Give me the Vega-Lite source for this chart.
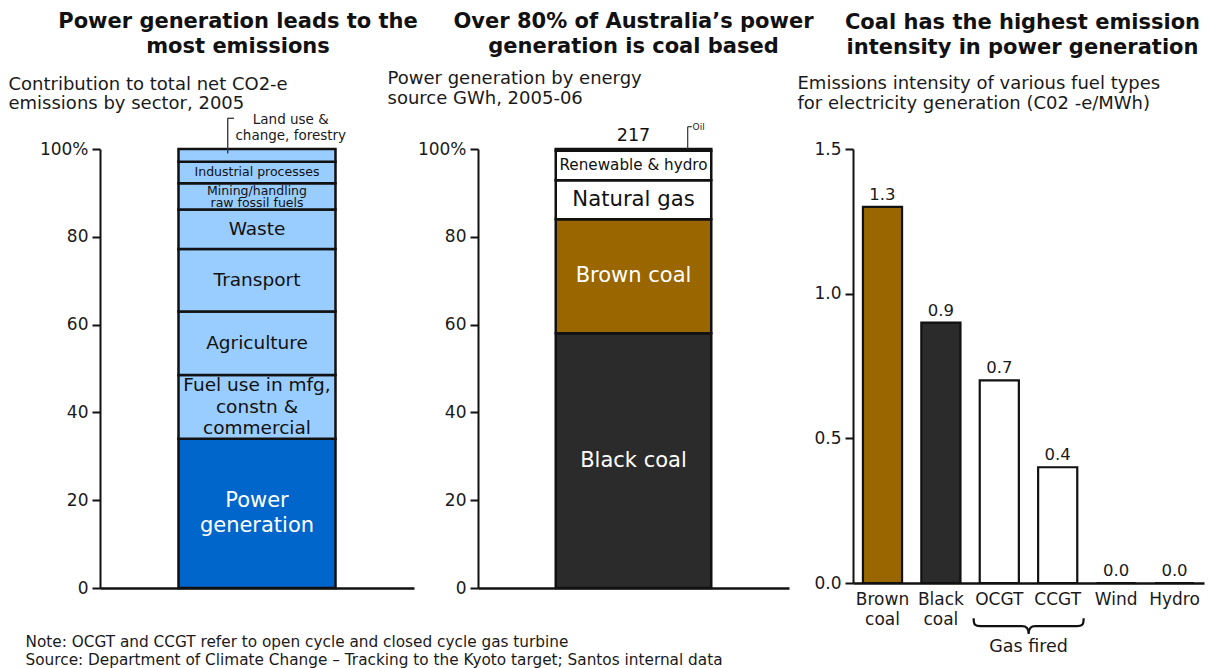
{
  "$schema": "https://vega.github.io/schema/vega-lite/v6.json",
  "background": "white",
  "padding": {"left": 8, "top": 10, "right": 5, "bottom": 2},
  "bounds": "flush",
  "spacing": 64,
  "resolve": {"scale": {"fill": "independent"}},
  "config": {
    "font": "DejaVu Sans",
    "view": {"stroke": null},
    "axis": {
      "domainColor": "#111", "domainWidth": 2, "tickColor": "#111", "tickWidth": 2, "tickSize": 8,
      "labelColor": "#1a1a1a", "labelFontSize": 17, "labelPadding": 4, "grid": false,
      "titleFontWeight": "normal", "titleFontSize": 18, "titleColor": "#1a1a1a"
    },
    "title": {"fontSize": 21, "fontWeight": "bold", "color": "#111", "lineHeight": 25, "anchor": "middle"}
  },
  "hconcat": [
    {
      "width": 314,
      "height": 439,
      "title": {"text": ["Power generation leads to the", "most emissions"], "dx": -19, "offset": 18},
      "data": {"values": [
        {"sector": "Power generation", "label": "Power\ngeneration", "share": 34, "rank": 1},
        {"sector": "Fuel use in mfg, constn & commercial", "label": "Fuel use in mfg,\nconstn &\ncommercial", "share": 14.5, "rank": 2},
        {"sector": "Agriculture", "label": "Agriculture", "share": 14.5, "rank": 3},
        {"sector": "Transport", "label": "Transport", "share": 14.2, "rank": 4},
        {"sector": "Waste", "label": "Waste", "share": 9.0, "rank": 5},
        {"sector": "Mining/handling raw fossil fuels", "label": "Mining/handling\nraw fossil fuels", "share": 6.0, "rank": 6},
        {"sector": "Industrial processes", "label": "Industrial processes", "share": 4.9, "rank": 7},
        {"sector": "Land use & change, forestry", "label": "Land use &\nchange, forestry", "share": 2.9, "rank": 8}
      ]},
      "transform": [
        {"stack": "share", "groupby": [], "sort": [{"field": "rank", "order": "ascending"}], "as": ["lo", "hi"]}
      ],
      "layer": [
        {
          "mark": {"type": "bar", "stroke": "#111", "strokeWidth": 2.5},
          "encoding": {
            "x": {
              "datum": 1, "type": "quantitative", "scale": {"domain": [0, 4]},
              "axis": {
                "labels": false, "ticks": false, "domainWidth": 2.5,
                "title": ["Note: OCGT and CCGT refer to open cycle and closed cycle gas turbine", "Source: Department of Climate Change – Tracking to the Kyoto target; Santos internal data"],
                "titleAlign": "left", "titleBaseline": "alphabetic", "titleX": -75, "titleY": 58.7,
                "titleFontSize": 15.3, "titleLineHeight": 18
              }
            },
            "x2": {"datum": 3},
            "y": {
              "field": "lo", "type": "quantitative", "scale": {"domain": [0, 100], "nice": false},
              "axis": {
                "values": [0, 20, 40, 60, 80, 100],
                "labelExpr": "datum.value == 100 ? '100%' : datum.label",
                "title": ["Contribution to total net CO2-e", "emissions by sector, 2005"],
                "titleAngle": 0, "titleAlign": "left", "titleBaseline": "alphabetic",
                "titleX": -92, "titleY": -60, "titleLineHeight": 19.5
              }
            },
            "y2": {"field": "hi"},
            "fill": {"condition": {"test": "datum.rank == 1", "value": "#0066CC"}, "value": "#99CCFF"}
          }
        },
        {
          "transform": [
            {"filter": "datum.rank < 8"},
            {"fold": ["lo", "hi"], "as": ["edge", "pos"]},
            {"aggregate": [{"op": "mean", "field": "pos", "as": "mid"}], "groupby": ["rank", "label"]}
          ],
          "mark": {
            "type": "text", "lineBreak": "\n", "baseline": "middle", "align": "center",
            "lineHeight": {"expr": "datum.rank == 1 ? 25 : datum.rank >= 6 ? 12.5 : 21.5"},
            "dy": {"expr": "datum.rank == 1 ? -12.5 : datum.rank == 2 ? -21.5 : datum.rank == 6 ? -5.5 : 0"}
          },
          "encoding": {
            "x": {"datum": 2, "type": "quantitative"},
            "y": {"field": "mid", "type": "quantitative"},
            "text": {"field": "label"},
            "size": {"condition": [{"test": "datum.rank == 1", "value": 21}, {"test": "datum.rank >= 6", "value": 12.5}], "value": 18.5},
            "color": {"condition": {"test": "datum.rank == 1", "value": "white"}, "value": "#111"}
          }
        },
        {
          "transform": [{"filter": "datum.rank == 8"}],
          "mark": {"type": "rule", "color": "#333", "strokeWidth": 1.3},
          "encoding": {
            "x": {"datum": 1.627, "type": "quantitative"},
            "y": {"datum": 99, "type": "quantitative"},
            "y2": {"datum": 107}
          }
        },
        {
          "transform": [{"filter": "datum.rank == 8"}],
          "mark": {"type": "rule", "color": "#333", "strokeWidth": 1.3},
          "encoding": {
            "x": {"datum": 1.627, "type": "quantitative"},
            "x2": {"datum": 1.707},
            "y": {"datum": 107, "type": "quantitative"}
          }
        },
        {
          "transform": [{"filter": "datum.rank == 8"}],
          "mark": {"type": "text", "lineBreak": "\n", "baseline": "alphabetic", "align": "center", "fontSize": 13.5, "lineHeight": 16, "color": "#1a1a1a"},
          "encoding": {
            "x": {"datum": 2.43, "type": "quantitative"},
            "y": {"datum": 105.7, "type": "quantitative"},
            "text": {"field": "label"}
          }
        }
      ]
    },
    {
      "width": 311,
      "height": 439,
      "title": {"text": ["Over 80% of Australia’s power", "generation is coal based"], "dx": 0, "offset": 12.7},
      "data": {"values": [
        {"source": "Black coal", "twh": 125.9, "rank": 1},
        {"source": "Brown coal", "twh": 56.4, "rank": 2},
        {"source": "Natural gas", "twh": 19.3, "rank": 3},
        {"source": "Renewable & hydro", "twh": 14.5, "rank": 4},
        {"source": "Oil", "twh": 0.9, "rank": 5}
      ]},
      "transform": [
        {"stack": "twh", "groupby": [], "offset": "normalize", "sort": [{"field": "rank", "order": "ascending"}], "as": ["lo", "hi"]}
      ],
      "layer": [
        {
          "mark": {"type": "bar", "stroke": "#111", "strokeWidth": 2.5},
          "encoding": {
            "x": {
              "datum": 1, "type": "quantitative", "scale": {"domain": [0, 4]},
              "axis": {"labels": false, "ticks": false, "domainWidth": 2.5, "title": null}
            },
            "x2": {"datum": 3},
            "y": {
              "field": "lo", "type": "quantitative", "scale": {"domain": [0, 1], "nice": false},
              "axis": {
                "values": [0, 0.2, 0.4, 0.6, 0.8, 1],
                "labelExpr": "datum.value == 1 ? '100%' : format(datum.value * 100, 'd')",
                "title": ["Power generation by energy", "source GWh, 2005-06"],
                "titleAngle": 0, "titleAlign": "left", "titleBaseline": "alphabetic",
                "titleX": -91, "titleY": -65.7, "titleLineHeight": 20
              }
            },
            "y2": {"field": "hi"},
            "fill": {
              "field": "source", "type": "nominal", "legend": null,
              "scale": {"domain": ["Black coal", "Brown coal", "Natural gas", "Renewable & hydro", "Oil"], "range": ["#2B2B2B", "#996600", "#FFFFFF", "#FFFFFF", "#FFFFFF"]}
            }
          }
        },
        {
          "transform": [
            {"filter": "datum.rank < 5"},
            {"fold": ["lo", "hi"], "as": ["edge", "pos"]},
            {"aggregate": [{"op": "mean", "field": "pos", "as": "mid"}], "groupby": ["rank", "source"]}
          ],
          "mark": {"type": "text", "baseline": "middle", "align": "center"},
          "encoding": {
            "x": {"datum": 2, "type": "quantitative"},
            "y": {"field": "mid", "type": "quantitative"},
            "text": {"field": "source"},
            "size": {"condition": [{"test": "datum.rank == 4", "value": 15.2}, {"test": "datum.rank == 3", "value": 21.2}], "value": 21},
            "color": {"condition": {"test": "datum.rank <= 2", "value": "white"}, "value": "#111"}
          }
        },
        {
          "transform": [{"aggregate": [{"op": "sum", "field": "twh", "as": "total"}]}],
          "mark": {"type": "text", "baseline": "alphabetic", "align": "center", "fontSize": 17.5, "color": "#111"},
          "encoding": {
            "x": {"datum": 2, "type": "quantitative"},
            "y": {"datum": 1.018, "type": "quantitative"},
            "text": {"field": "total", "format": ".0f"}
          }
        },
        {
          "transform": [{"filter": "datum.rank == 5"}],
          "mark": {"type": "rule", "color": "#333", "strokeWidth": 1.2},
          "encoding": {
            "x": {"datum": 2.697, "type": "quantitative"},
            "y": {"datum": 1.0, "type": "quantitative"},
            "y2": {"datum": 1.0508}
          }
        },
        {
          "transform": [{"filter": "datum.rank == 5"}],
          "mark": {"type": "rule", "color": "#333", "strokeWidth": 1.2},
          "encoding": {
            "x": {"datum": 2.697, "type": "quantitative"},
            "x2": {"datum": 2.75},
            "y": {"datum": 1.0508, "type": "quantitative"}
          }
        },
        {
          "transform": [{"filter": "datum.rank == 5"}],
          "mark": {"type": "text", "baseline": "middle", "align": "left", "fontSize": 9, "color": "#1a1a1a"},
          "encoding": {
            "x": {"datum": 2.76, "type": "quantitative"},
            "y": {"datum": 1.0508, "type": "quantitative"},
            "text": {"field": "source"}
          }
        }
      ]
    },
    {
      "width": 351,
      "height": 434,
      "title": {"text": ["Coal has the highest emission", "intensity in power generation"], "dx": -6, "offset": 15.7},
      "data": {"values": [
        {"fuel": "Brown coal", "intensity": 1.3},
        {"fuel": "Black coal", "intensity": 0.9},
        {"fuel": "OCGT", "intensity": 0.7},
        {"fuel": "CCGT", "intensity": 0.4},
        {"fuel": "Wind", "intensity": 0.0},
        {"fuel": "Hydro", "intensity": 0.0}
      ]},
      "layer": [
        {
          "mark": {"type": "bar", "stroke": "#111", "strokeWidth": 2.2},
          "encoding": {
            "x": {
              "field": "fuel", "type": "nominal",
              "scale": {"domain": ["Brown coal", "Black coal", "OCGT", "CCGT", "Wind", "Hydro"], "paddingInner": 0.33, "paddingOuter": 0.17},
              "axis": {
                "labelExpr": "split(datum.label, ' ')", "labelAngle": 0, "labelFontSize": 17,
                "labelLineHeight": 20, "labelPadding": 8, "ticks": false, "domainWidth": 2.5, "title": null,
                "labelBaseline": "top"
              }
            },
            "y": {
              "field": "intensity", "type": "quantitative", "scale": {"domain": [0, 1.5], "nice": false, "zero": true},
              "axis": {
                "values": [0, 0.5, 1, 1.5], "format": ".1f",
                "title": ["Emissions intensity of various fuel types", "for electricity generation (C02 -e/MWh)"],
                "titleAngle": 0, "titleAlign": "left", "titleBaseline": "alphabetic",
                "titleX": -56, "titleY": -61, "titleLineHeight": 20
              }
            },
            "fill": {
              "field": "fuel", "type": "nominal", "legend": null,
              "scale": {"domain": ["Brown coal", "Black coal", "OCGT", "CCGT", "Wind", "Hydro"], "range": ["#996600", "#2B2B2B", "#FFFFFF", "#FFFFFF", "#FFFFFF", "#FFFFFF"]}
            }
          }
        },
        {
          "mark": {"type": "text", "baseline": "alphabetic", "align": "center", "dy": -7, "fontSize": 16.5, "color": "#1a1a1a"},
          "encoding": {
            "x": {"field": "fuel", "type": "nominal"},
            "y": {"field": "intensity", "type": "quantitative"},
            "text": {"field": "intensity", "format": ".1f"}
          }
        },
        {
          "data": {"values": [{"group": "Gas fired"}]},
          "mark": {
            "type": "point", "filled": false, "color": "#111", "strokeWidth": 2.2, "opacity": 1, "size": 12100,
            "shape": "M -1 -0.145 C -1 -0.02 -0.97 0 -0.88 0 L -0.12 0 C -0.04 0 0 0.04 0 0.145 C 0 0.04 0.04 0 0.12 0 L 0.88 0 C 0.97 0 1 -0.02 1 -0.145"
          },
          "encoding": {
            "x": {"datum": "OCGT", "type": "nominal", "bandPosition": 1.25},
            "y": {"datum": -0.149, "type": "quantitative"}
          }
        },
        {
          "data": {"values": [{"group": "Gas fired"}]},
          "mark": {"type": "text", "baseline": "alphabetic", "align": "center", "fontSize": 17.5, "color": "#1a1a1a"},
          "encoding": {
            "x": {"datum": "OCGT", "type": "nominal", "bandPosition": 1.25},
            "y": {"datum": -0.2385, "type": "quantitative"},
            "text": {"field": "group"}
          }
        }
      ]
    }
  ]
}
